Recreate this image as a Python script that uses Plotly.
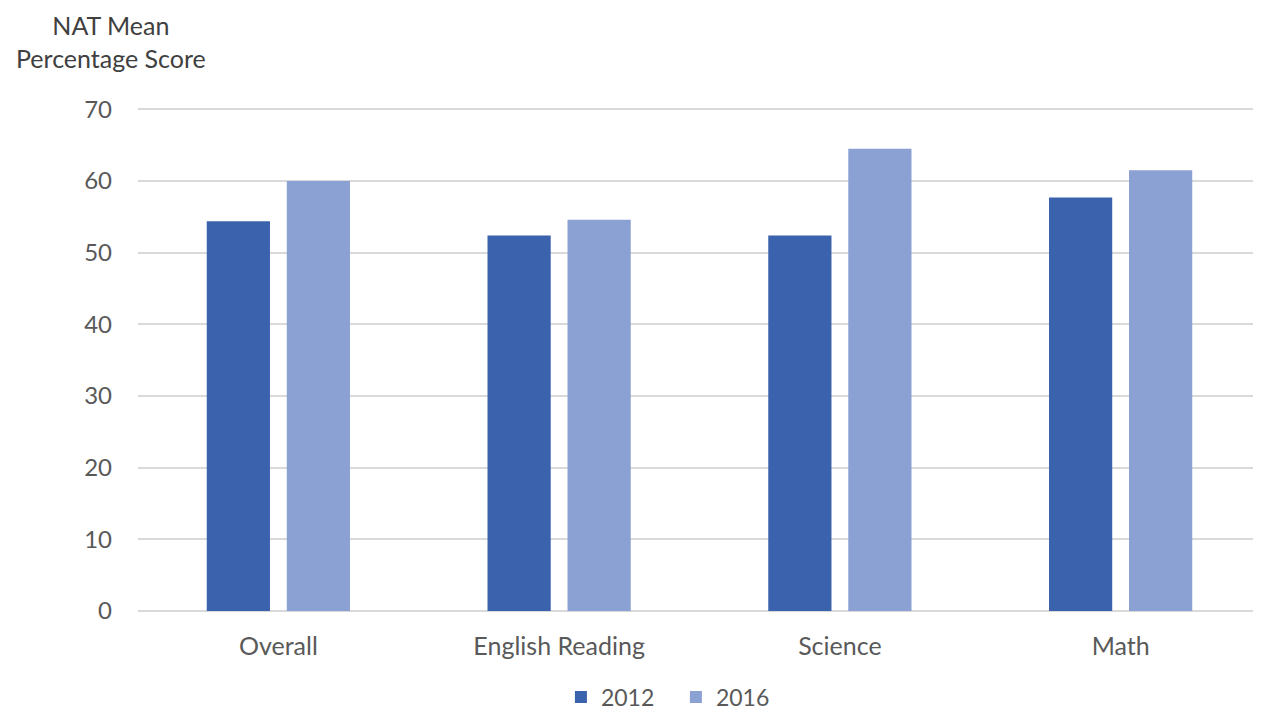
import plotly.graph_objects as go

categories = ["Overall", "English Reading", "Science", "Math"]
scores_2012 = [54.4, 52.4, 52.4, 57.7]
scores_2016 = [60.0, 54.6, 64.5, 61.5]
series_names = ["2012", "2016"]
y_ticks = [0, 10, 20, 30, 40, 50, 60, 70]

FONT = "Lato, 'Open Sans', sans-serif"
TXT = "#595959"

fig = go.Figure()
fig.add_trace(go.Bar(x=categories, y=scores_2012, name=series_names[0],
                     marker=dict(color="#3B62AC", line=dict(width=0))))
fig.add_trace(go.Bar(x=categories, y=scores_2016, name=series_names[1],
                     marker=dict(color="#8BA1D3", line=dict(width=0))))

fig.update_layout(
    width=1253, height=709,
    paper_bgcolor="white", plot_bgcolor="white",
    margin=dict(l=130, r=0, t=100, b=105.5),
    barmode="group", bargap=0.43, bargroupgap=0.21,
    font=dict(family=FONT, color=TXT, size=24),
    showlegend=True,
    legend=dict(orientation="h", x=0.479, xanchor="center",
                yref="container", y=0.0282, yanchor="middle",
                font=dict(size=23, color=TXT), traceorder="normal",
                itemwidth=30, entrywidth=70, entrywidthmode="pixels",
                bgcolor="rgba(0,0,0,0)"),
    xaxis=dict(showgrid=False, showline=False, ticks="", zeroline=False,
               tickfont=dict(size=25, color=TXT), ticklabelstandoff=18),
    yaxis=dict(range=[0, 70.2], tickvals=y_ticks, showgrid=True, gridcolor="#D9D9D9",
               gridwidth=1.5, zeroline=True, zerolinecolor="#D9D9D9", zerolinewidth=1.5,
               showline=False, ticks="", tickfont=dict(size=24, color=TXT),
               ticklabelstandoff=25),
    annotations=[
        dict(text="NAT Mean<br>Percentage Score", xref="paper", yref="paper",
             x=-0.024, y=1.0, xanchor="center", yanchor="bottom", yshift=33,
             showarrow=False, align="center",
             font=dict(size=25, color="#404040", family=FONT)),
    ],
)

fig.write_html("out.html")
